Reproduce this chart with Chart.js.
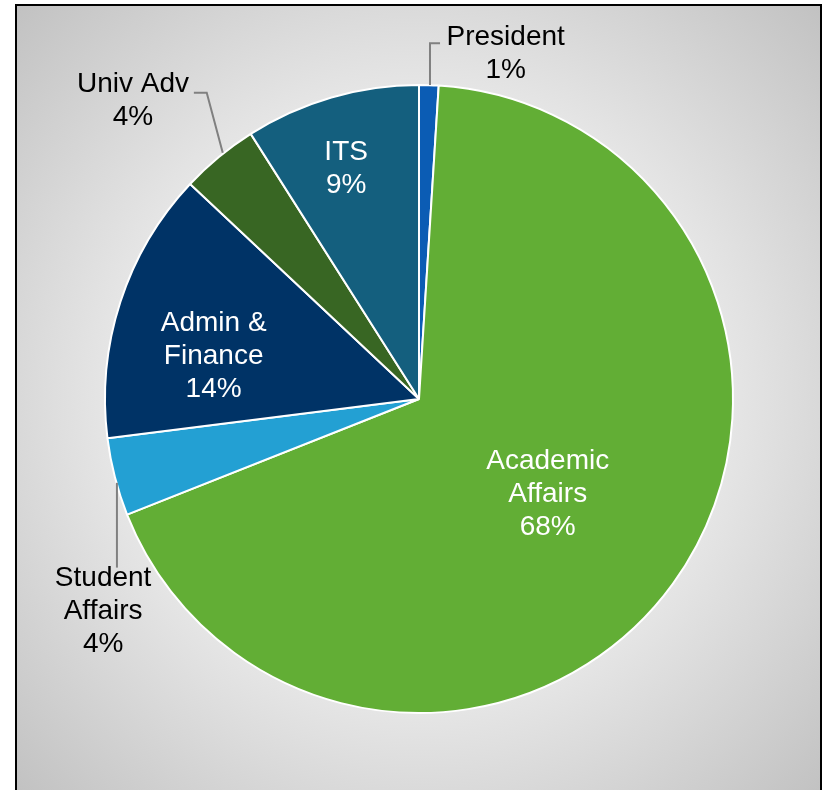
<!DOCTYPE html>
<html>
<head>
<meta charset="utf-8">
<title>Budget by Division</title>
<script src="https://cdn.jsdelivr.net/npm/chart.js@4.4.1/dist/chart.umd.min.js"></script>
<style>
  html, body { margin: 0; padding: 0; background: #fff; }
  canvas { display: block; }
</style>
</head>
<body>
<canvas id="division-chart" width="822" height="790"></canvas>
<script>
// Share of budget by division, clockwise from 12 o'clock
const divisions = ["President", "Academic Affairs", "Student Affairs", "Admin & Finance", "Univ Adv", "ITS"];
const shares = [1, 68, 4, 14, 4, 9];
const labelLines = [
  ["President"],
  ["Academic", "Affairs"],
  ["Student", "Affairs"],
  ["Admin &", "Finance"],
  ["Univ Adv"],
  ["ITS"],
];
const sliceColors = ["#0b5cb4", "#62ae35", "#23a0d3", "#003366", "#386623", "#145f7e"];

// label placement, in pie radii from the centre
const labelSpots = [
  { dx: 0.276, dy: -1.108, color: "#000" },
  { dx: 0.41, dy: 0.295, color: "#fff" },
  { dx: -1.006, dy: 0.667, color: "#000" },
  { dx: -0.654, dy: -0.146, color: "#fff" },
  { dx: -0.911, dy: -0.959, color: "#000" },
  { dx: -0.232, dy: -0.743, color: "#fff" },
];
// leader lines for the labels that sit outside the pie
const leaders = {
  0: [[0.035, -1.0], [0.035, -1.133], [0.067, -1.133]],
  2: [[-0.962, 0.267], [-0.962, 0.537]],
  4: [[-0.625, -0.784], [-0.676, -0.975], [-0.717, -0.975]],
};

const frame = {
  id: "frame",
  beforeDraw(chart) {
    const c = chart.ctx;
    c.save();
    c.fillStyle = "#fff";
    c.fillRect(0, 0, chart.width, chart.height);
    const g = c.createRadialGradient(419, 399, 0, 419, 399, 560);
    g.addColorStop(0, "#ffffff");
    g.addColorStop(0.55, "#e6e6e6");
    g.addColorStop(1, "#c2c2c2");
    c.fillStyle = g;
    c.fillRect(16, 5, 805, 785);
    c.strokeStyle = "#000";
    c.lineWidth = 2;
    c.strokeRect(16, 5, 805, 790);
    c.restore();
  },
};

const sliceLabels = {
  id: "sliceLabels",
  afterDatasetsDraw(chart) {
    const c = chart.ctx;
    const arcs = chart.getDatasetMeta(0).data;
    const cx = arcs[0].x, cy = arcs[0].y, r = arcs[0].outerRadius;
    c.save();
    c.strokeStyle = "#808080";
    c.lineWidth = 2;
    Object.keys(leaders).forEach((k) => {
      c.beginPath();
      leaders[k].forEach(([dx, dy], j) => {
        const px = cx + dx * r, py = cy + dy * r;
        if (j === 0) c.moveTo(px, py); else c.lineTo(px, py);
      });
      c.stroke();
    });
    c.font = "28px 'Liberation Sans', Arial, sans-serif";
    c.textAlign = "center";
    c.textBaseline = "middle";
    const lineH = 33;
    arcs.forEach((arc, i) => {
      const lines = labelLines[i].concat([shares[i] + "%"]);
      const x = cx + labelSpots[i].dx * r;
      const y0 = cy + labelSpots[i].dy * r - ((lines.length - 1) * lineH) / 2 + 3;
      c.fillStyle = labelSpots[i].color;
      lines.forEach((t, j) => c.fillText(t, x, y0 + j * lineH));
    });
    c.restore();
  },
};

new Chart(document.getElementById("division-chart"), {
  type: "pie",
  data: {
    labels: divisions,
    datasets: [
      {
        data: shares,
        backgroundColor: sliceColors,
        borderColor: "#fff",
        borderWidth: 2,
      },
    ],
  },
  options: {
    responsive: false,
    animation: false,
    layout: { padding: { left: 104, right: 88, top: 84, bottom: 76 } },
    plugins: {
      legend: { display: false },
      tooltip: { enabled: false },
    },
  },
  plugins: [frame, sliceLabels],
});
</script>
</body>
</html>
